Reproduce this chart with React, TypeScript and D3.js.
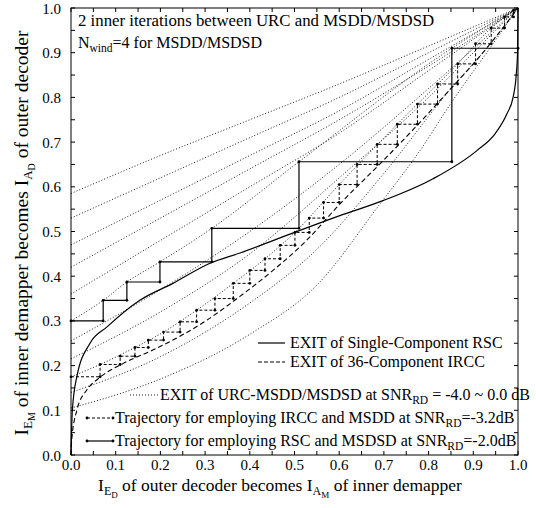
import * as d3 from 'd3';

type Pt = [number, number];

const majorTicks = [0, 0.1, 0.2, 0.3, 0.4, 0.5, 0.6, 0.7, 0.8, 0.9, 1.0];
const minorTicks = [0.05, 0.15, 0.25, 0.35, 0.45, 0.55, 0.65, 0.75, 0.85, 0.95];

// EXIT of single-component RSC (axes swapped: x = I_E_D, y = I_A_D)
const rscExit: Pt[] = [
  [0, 0], [0.003, 0.1], [0.013, 0.175], [0.0425, 0.25], [0.08, 0.286], [0.154, 0.346],
  [0.228, 0.384], [0.311, 0.429], [0.378, 0.452], [0.5, 0.498], [0.6, 0.535], [0.698, 0.569],
  [0.81, 0.618], [0.908, 0.681], [0.949, 0.719], [0.975, 0.763], [0.989, 0.8], [0.996, 0.85],
  [0.999, 0.9], [1.0, 1.0],
];

// EXIT of 36-component IRCC
const irccExit: Pt[] = [
  [0, 0], [0.0015, 0.033], [0.013, 0.1], [0.035, 0.145], [0.06, 0.17], [0.117, 0.205],
  [0.19, 0.238], [0.303, 0.301], [0.378, 0.355], [0.452, 0.413], [0.527, 0.48], [0.6, 0.56],
  [0.7, 0.66], [0.8, 0.765], [0.85, 0.82], [0.9, 0.875], [0.95, 0.935], [1, 1],
];

// EXIT of URC-MSDD/MSDSD, SNR_RD = -4.0 ... 0.0 dB
const urcM40: Pt[] = [[0, 0.105], [0.2, 0.17], [0.4, 0.27], [0.55, 0.38], [0.69, 0.56], [0.78, 0.68], [0.852, 0.79], [0.93, 0.9], [1, 1]];
const urcM36: Pt[] = [[0, 0.14], [0.2, 0.22], [0.4, 0.34], [0.55, 0.46], [0.7, 0.63], [0.85, 0.82], [0.93, 0.91], [1, 1]];
const urcM32: Pt[] = [[0, 0.175], [0.065, 0.2025], [0.143, 0.2405], [0.207, 0.275], [0.281, 0.324], [0.363, 0.384], [0.434, 0.439], [0.501, 0.498], [0.6, 0.605], [0.73, 0.74], [0.865, 0.875], [0.94, 0.955], [1, 1]];
const urcM28: Pt[] = [[0, 0.215], [0.2, 0.32], [0.4, 0.45], [0.6, 0.62], [0.8, 0.8], [0.9, 0.9], [1, 1]];
const urcM24: Pt[] = [[0, 0.255], [0.2, 0.37], [0.4, 0.5], [0.6, 0.65], [0.8, 0.82], [1, 1]];
const urcM20: Pt[] = [[0, 0.3], [0.072, 0.346], [0.125, 0.387], [0.199, 0.432], [0.315, 0.507], [0.51, 0.656], [0.852, 0.91], [1, 1]];
const urcM16: Pt[] = [[0, 0.36], [0.2, 0.48], [0.4, 0.6], [0.6, 0.72], [0.8, 0.86], [1, 1]];
const urcM12: Pt[] = [[0, 0.42], [0.2, 0.53], [0.4, 0.64], [0.6, 0.75], [0.8, 0.87], [1, 1]];
const urcM08: Pt[] = [[0, 0.47], [0.2, 0.57], [0.4, 0.67], [0.6, 0.77], [0.8, 0.885], [1, 1]];
const urcM04: Pt[] = [[0, 0.53], [0.2, 0.62], [0.4, 0.71], [0.6, 0.8], [0.8, 0.9], [1, 1]];
const urcP00: Pt[] = [[0, 0.585], [0.2, 0.67], [0.4, 0.75], [0.6, 0.83], [0.8, 0.915], [1, 1]];
const urcCurves = [urcM40, urcM36, urcM32, urcM28, urcM24, urcM20, urcM16, urcM12, urcM08, urcM04, urcP00];

// decoding trajectories (corner points)
const rscTrajectory: Pt[] = [
  [0, 0.3], [0.072, 0.3], [0.072, 0.346], [0.125, 0.346], [0.125, 0.387], [0.199, 0.387],
  [0.199, 0.432], [0.315, 0.432], [0.315, 0.507], [0.51, 0.507], [0.51, 0.656], [0.852, 0.656],
  [0.852, 0.91], [1.0, 0.91],
];
const irccStepX = [0, 0.065, 0.11, 0.143, 0.173, 0.207, 0.244, 0.281, 0.322, 0.363, 0.4, 0.434, 0.468, 0.501, 0.533, 0.565, 0.6, 0.64, 0.685, 0.73, 0.775, 0.82, 0.865, 0.905, 0.94, 0.97, 0.99];
const irccStepY = [0.175, 0.2025, 0.221, 0.2405, 0.257, 0.275, 0.298, 0.324, 0.35, 0.384, 0.413, 0.439, 0.469, 0.498, 0.53, 0.565, 0.605, 0.65, 0.695, 0.74, 0.785, 0.83, 0.875, 0.92, 0.955, 0.98, 0.995];

const W = 536;
const H = 508;
const FONT = '"Liberation Serif", "Times New Roman", serif';

export default function App() {
  const x = d3.scaleLinear().domain([0, 1]).range([71, 518]);
  const y = d3.scaleLinear().domain([0, 1]).range([455, 8]);
  const smooth = d3.line<Pt>().x((d) => x(d[0])).y((d) => y(d[1])).curve(d3.curveMonotoneX);
  const straight = d3.line<Pt>().x((d) => x(d[0])).y((d) => y(d[1]));

  const irccTrajectory: Pt[] = [];
  irccStepY.forEach((lv, i) => {
    irccTrajectory.push([irccStepX[i], lv]);
    if (i + 1 < irccStepX.length) irccTrajectory.push([irccStepX[i + 1], lv]);
  });

  const [x0, x1] = x.range();
  const [y0, y1] = y.range();

  return (
    <svg width={W} height={H} style={{ position: 'absolute', left: 0, top: 0, background: '#fff' }} fontFamily={FONT}>
      {/* URC curves */}
      <g fill="none" stroke="#000" strokeWidth={0.9} strokeDasharray="1,2">
        {urcCurves.map((c, i) => (
          <path key={i} d={smooth(c) || ''} />
        ))}
      </g>
      <path d={smooth(irccExit) || ''} fill="none" stroke="#000" strokeWidth={1.1} strokeDasharray="5,3" />
      <path d={smooth(rscExit) || ''} fill="none" stroke="#000" strokeWidth={1.2} />
      <path d={straight(irccTrajectory) || ''} fill="none" stroke="#000" strokeWidth={1} strokeDasharray="3,2" />
      {irccTrajectory.map((p, i) => (
        <circle key={'ic' + i} cx={x(p[0])} cy={y(p[1])} r={1.4} fill="#000" />
      ))}
      <path d={straight(rscTrajectory) || ''} fill="none" stroke="#000" strokeWidth={1.2} />
      {rscTrajectory.map((p, i) => (
        <circle key={'rc' + i} cx={x(p[0])} cy={y(p[1])} r={1.4} fill="#000" />
      ))}

      {/* frame and ticks */}
      <rect x={x0} y={y1} width={x1 - x0} height={y0 - y1} fill="none" stroke="#000" strokeWidth={1} />
      <g stroke="#000" strokeWidth={1}>
        {majorTicks.concat(minorTicks).map((t, i) => (
          <g key={'t' + i}>
            <line x1={x(t)} x2={x(t)} y1={y0} y2={y0 - 4} />
            <line x1={x(t)} x2={x(t)} y1={y1} y2={y1 + 4} />
            <line x1={x0} x2={x0 + 4} y1={y(t)} y2={y(t)} />
            <line x1={x1} x2={x1 - 4} y1={y(t)} y2={y(t)} />
          </g>
        ))}
      </g>
      <g fontSize={15} fill="#000">
        {majorTicks.map((t) => (
          <text key={'xl' + t} x={x(t)} y={470} textAnchor="middle">
            {d3.format('.1f')(t)}
          </text>
        ))}
        {majorTicks.map((t) => (
          <text key={'yl' + t} x={61} y={y(t) + 5.5} textAnchor="end">
            {d3.format('.1f')(t)}
          </text>
        ))}
      </g>

      {/* axis titles */}
      <text x={280} y={491} textAnchor="middle" fontSize={17.5}>
        I<tspan dy={4} fontSize={12}>E</tspan>
        <tspan dy={3} fontSize={9}>D</tspan>
        <tspan dy={-7} fontSize={17.5}> of outer decoder becomes I</tspan>
        <tspan dy={4} fontSize={12}>A</tspan>
        <tspan dy={3} fontSize={9}>M</tspan>
        <tspan dy={-7} fontSize={17.5}> of inner demapper</tspan>
      </text>
      <text transform="translate(28,233) rotate(-90)" textAnchor="middle" fontSize={19.5}>
        I<tspan dy={4} fontSize={13}>E</tspan>
        <tspan dy={3} fontSize={10}>M</tspan>
        <tspan dy={-7} fontSize={19.5}> of inner demapper becomes I</tspan>
        <tspan dy={4} fontSize={13}>A</tspan>
        <tspan dy={3} fontSize={10}>D</tspan>
        <tspan dy={-7} fontSize={19.5}> of outer decoder</tspan>
      </text>

      {/* annotations */}
      <text x={78} y={26} fontSize={16.8}>2 inner iterations between URC and MSDD/MSDSD</text>
      <text x={78} y={48} fontSize={16}>
        N<tspan dy={4} fontSize={11.5}>wind</tspan>
        <tspan dy={-4} fontSize={16}>=4 for MSDD/MSDSD</tspan>
      </text>

      {/* legend */}
      <g fontSize={16}>
        <line x1={258} x2={285} y1={343} y2={343} stroke="#000" strokeWidth={1.2} />
        <text x={290} y={348}>EXIT of Single-Component RSC</text>
        <line x1={258} x2={285} y1={362} y2={362} stroke="#000" strokeWidth={1.1} strokeDasharray="4,2" />
        <text x={290} y={367}>EXIT of 36-Component IRCC</text>

        <line x1={130} x2={158} y1={395} y2={395} stroke="#000" strokeWidth={0.9} strokeDasharray="1,2" />
        <text x={160} y={400}>
          EXIT of URC-MSDD/MSDSD at SNR<tspan dy={4} fontSize={11.5}>RD</tspan>
          <tspan dy={-4} fontSize={16}> = -4.0 ~ 0.0 dB</tspan>
        </text>

        <line x1={87} x2={113} y1={418} y2={418} stroke="#000" strokeWidth={1} strokeDasharray="3,2" />
        <circle cx={87} cy={418} r={1.4} />
        <circle cx={113} cy={418} r={1.4} />
        <text x={115} y={423}>
          Trajectory for employing IRCC and MSDD at SNR<tspan dy={4} fontSize={11.5}>RD</tspan>
          <tspan dy={-4} fontSize={16}>=-3.2dB</tspan>
        </text>

        <line x1={87} x2={113} y1={441} y2={441} stroke="#000" strokeWidth={1.2} />
        <circle cx={87} cy={441} r={1.4} />
        <circle cx={113} cy={441} r={1.4} />
        <text x={115} y={446}>
          Trajectory for employing RSC and MSDSD at SNR<tspan dy={4} fontSize={11.5}>RD</tspan>
          <tspan dy={-4} fontSize={16}>=-2.0dB</tspan>
        </text>
      </g>
    </svg>
  );
}
